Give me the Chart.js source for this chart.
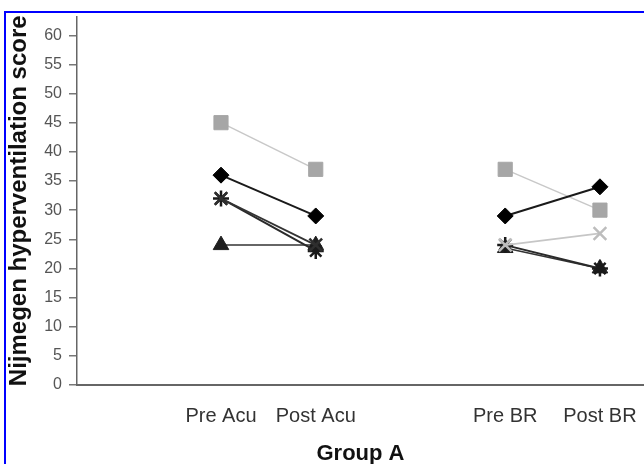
<!DOCTYPE html>
<html lang="en">

<head>
    <meta charset="UTF-8">
    <title>Nijmegen hyperventilation score - Group A</title>
    <script src="https://cdn.jsdelivr.net/npm/chart.js"></script>
    <style>
        html, body { margin: 0; padding: 0; background: #fff; overflow: hidden; }
        #wrap { position: relative; width: 644px; height: 464px; }
        #frame {
            position: absolute; left: 4px; top: 11px; right: 0; bottom: 0;
            border-left: 2px solid #0000ff; border-top: 2px solid #0000ff;
            pointer-events: none;
        }
        canvas { position: absolute; left: 0; top: 0; }
    </style>
</head>

<body>
    <div id="wrap">
        <canvas id="myChart" width="644" height="464"></canvas>
        <div id="frame"></div>
    </div>

    <script>
        // x positions (gap between the two treatments) and their labels
        const timepoints = [1, 2, 4, 5];
        const timeLabels = ['Pre Acu', 'Post Acu', 'Pre BR', 'Post BR'];
        const yTicks = [0, 5, 10, 15, 20, 25, 30, 35, 40, 45, 50, 55, 60];

        // one patient per series: Pre Acu, Post Acu, Pre BR, Post BR
        const diamondScores = [36, 29, 29, 34];
        const crossScores = [32, 24, 24, 26];
        const starScores = [32, 23, 24, 20];
        const triangleScores = [24, 24, 23.5, 20];
        const squareScores = [45, 37, 37, 30];

        const FONT = '"Liberation Sans", Arial, sans-serif';

        function points(vals) {
            return timepoints.map((x, i) => ({ x: x, y: vals[i] }));
        }

        // acu pair uses acuColor, BR pair uses brColor, nothing between them
        function series(label, vals, style, radius, acuColor, brColor, lineAcu, lineBr, width) {
            return {
                label: label,
                data: points(vals),
                pointStyle: style,
                pointRadius: radius,
                pointBackgroundColor: [acuColor, acuColor, brColor, brColor],
                pointBorderColor: [acuColor, acuColor, brColor, brColor],
                pointBorderWidth: (style === 'crossRot' || style === 'star') ? 2.5 : 1,
                borderColor: lineAcu,
                borderWidth: width,
                showLine: true,
                segment: {
                    borderColor: ctx => ctx.p0DataIndex === 1 ? 'rgba(0,0,0,0)'
                        : (ctx.p0DataIndex === 2 ? lineBr : lineAcu)
                }
            };
        }

        const ctx = document.getElementById('myChart');
        new Chart(ctx, {
            type: 'scatter',
            data: {
                datasets: [
                    series('Diamond', diamondScores, 'rectRot', 8, '#000', '#000', '#1a1a1a', '#1a1a1a', 2),
                    series('Cross', crossScores, 'crossRot', 9, '#2e2e2e', '#bdbdbd', '#333', '#c6c6c6', 1.8),
                    series('Star', starScores, 'star', 8, '#1a1a1a', '#1a1a1a', '#2a2a2a', '#2a2a2a', 2),
                    series('Triangle', triangleScores, 'triangle', 9, '#1f1f1f', '#1f1f1f', '#333', '#333', 1.5),
                    series('Square', squareScores, 'rect', 10, '#a6a6a6', '#a6a6a6', '#c8c8c8', '#c8c8c8', 1.5)
                ]
            },
            options: {
                responsive: false,
                animation: false,
                layout: { autoPadding: false, padding: { top: 14, right: 0, bottom: 0, left: 0 } },
                plugins: {
                    legend: { display: false },
                    tooltip: { enabled: false }
                },
                scales: {
                    x: {
                        type: 'linear',
                        min: -0.52,
                        max: 5.465,
                        afterBuildTicks: s => { s.ticks = timepoints.map(v => ({ value: v })); },
                        afterFit: s => {
                            s.height = 79;
                            s.paddingLeft = 0;
                            s.paddingRight = 0;
                        },
                        ticks: {
                            callback: v => timeLabels[timepoints.indexOf(v)],
                            font: { family: FONT, size: 20 },
                            color: '#333',
                            padding: 19,
                            maxRotation: 0,
                            autoSkip: false
                        },
                        grid: { display: false, drawTicks: false },
                        border: { color: '#666', width: 2 },
                        title: {
                            display: true,
                            text: 'Group A',
                            font: { family: FONT, size: 22, weight: 'bold' },
                            color: '#111',
                            padding: { top: 0, bottom: -3 }
                        }
                    },
                    y: {
                        min: 0,
                        max: 63.2,
                        afterBuildTicks: s => { s.ticks = yTicks.map(v => ({ value: v })); },
                        afterFit: s => { s.width = 77; },
                        ticks: {
                            font: { family: FONT, size: 16 },
                            color: '#555',
                            padding: 7
                        },
                        grid: { drawOnChartArea: false, tickLength: 8, color: '#777', lineWidth: 1.5 },
                        border: { color: '#666', width: 1.5 },
                        title: {
                            display: true,
                            text: 'Nijmegen hyperventilation score',
                            font: { family: FONT, size: 24, weight: 'bold' },
                            color: '#111',
                            padding: { top: 5, bottom: 0 }
                        }
                    }
                }
            }
        });
    </script>
</body>

</html>
